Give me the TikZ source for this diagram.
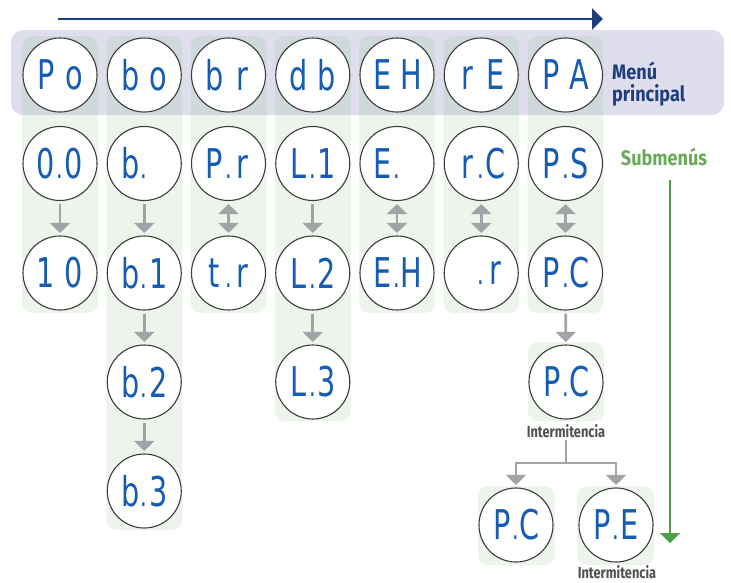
\documentclass[tikz,border=0pt]{standalone}
\usepackage{fontspec}
\setmainfont{Fira Sans}
\newfontfamily\segfont[FakeStretch=0.7]{DejaVu Sans}
\newfontfamily\condfont[FakeStretch=0.86]{Fira Sans}
\newfontfamily\intfont[FakeStretch=0.8]{Fira Sans}
\usetikzlibrary{arrows.meta}
\definecolor{bandc}{RGB}{222,222,237}
\definecolor{colbg}{RGB}{237,244,235}
\definecolor{colov}{RGB}{207,216,219}
\definecolor{segblue}{RGB}{22,92,178}
\definecolor{ring}{RGB}{60,60,60}
\definecolor{arrgrey}{RGB}{162,163,167}
\definecolor{navyc}{RGB}{31,62,126}
\definecolor{subgreen}{RGB}{104,170,88}
\definecolor{arrgreen}{RGB}{78,160,70}
\definecolor{labgrey}{RGB}{80,80,80}
\newcommand\disp[3]{\makebox[20pt][c]{#1}\makebox[8pt][c]{\fontsize{30}{30}\selectfont #2}\makebox[20pt][c]{#3}}
\newcommand\colpaths{%
  (22,36) rectangle (98,313)
  (106.25,36) rectangle (182.25,530)
  (190.5,36) rectangle (266.5,313)
  (274.75,36) rectangle (350.75,421)
  (359,36) rectangle (435,313)
  (443.25,36) rectangle (519.25,313)
  (527.5,36) rectangle (603.5,313)}
\tikzset{
  disc/.style={circle, draw=ring, line width=1.1pt, fill=white, minimum size=74pt,
    inner sep=0pt, text=segblue, font=\segfont\fontsize{41}{41}\selectfont},
  flow/.style={draw=arrgrey, line width=2.6pt, -{Triangle[width=20pt,length=10pt]},
    shorten <=3pt, shorten >=2.5pt},
  both/.style={draw=arrgrey, line width=2.6pt,
    {Triangle[width=20pt,length=10pt]}-{Triangle[width=20pt,length=10pt]},
    shorten <=3pt, shorten >=2.5pt},
  plainline/.style={draw=arrgrey, line width=2.6pt},
  intlab/.style={text=labgrey, inner sep=1pt, font=\intfont\bfseries\fontsize{16}{18}\selectfont},
  boldlab/.style={inner sep=0pt, font=\condfont\bfseries\fontsize{21}{22}\selectfont}
}
\begin{document}
\begin{tikzpicture}[x=1pt,y=-1pt]
\useasboundingbox (0,0) rectangle (731,582);
% main menu band
\fill[bandc, rounded corners=12pt] (11,30) rectangle (724,115);
% column backgrounds
\fill[colbg, rounded corners=10pt] \colpaths;
\fill[colbg, rounded corners=10pt] (528,342) rectangle (604,421);
\fill[colbg, rounded corners=10pt] (478,486) rectangle (555,565);
\fill[colbg, rounded corners=10pt] (577,486) rectangle (654,565);
\begin{scope}
  \clip[rounded corners=12pt] (11,30) rectangle (724,115);
  \fill[colov, rounded corners=10pt] \colpaths;
\end{scope}
% top arrow
\coordinate (ns) at (58,19);
\coordinate (ne) at (603,19);
\draw[navyc, line width=2.4pt, -{Triangle[width=21pt,length=11pt]}] (ns) -- (ne);
% row 1
\node[disc] (po) at (60,75) {\disp{P}{}{o}};
\node[disc] (bo) at (144.25,75) {\disp{b}{}{o}};
\node[disc] (br) at (228.5,75) {\disp{b}{}{r}};
\node[disc] (db) at (312.75,75) {\disp{d}{}{b}};
\node[disc] (eh) at (397,75) {\disp{E}{}{H}};
\node[disc] (re) at (481.25,75) {\disp{r}{}{E}};
\node[disc] (pa) at (565.5,75) {\disp{P}{}{A}};
% row 2
\node[disc] (a2) at (60,163.5) {\disp{0}{.}{0}};
\node[disc] (b2) at (144.25,163.5) {\disp{b}{.}{}};
\node[disc] (c2) at (228.5,163.5) {\disp{P}{.}{r}};
\node[disc] (d2) at (312.75,163.5) {\disp{L}{.}{1}};
\node[disc] (e2) at (397,163.5) {\disp{E}{.}{}};
\node[disc] (f2) at (481.25,163.5) {\disp{r}{.}{C}};
\node[disc] (g2) at (565.5,163.5) {\disp{P}{.}{S}};
% row 3
\node[disc] (a3) at (60,273) {\disp{1}{}{0}};
\node[disc] (b3) at (144.25,273) {\disp{b}{.}{1}};
\node[disc] (c3) at (228.5,273) {\disp{t}{.}{r}};
\node[disc] (d3) at (312.75,273) {\disp{L}{.}{2}};
\node[disc] (e3) at (397,273) {\disp{E}{.}{H}};
\node[disc] (f3) at (481.25,273) {\disp{}{.}{r}};
\node[disc] (g3) at (565.5,273) {\disp{P}{.}{C}};
% row 4 and 5
\node[disc] (b4) at (144.25,382) {\disp{b}{.}{2}};
\node[disc] (d4) at (312.75,382) {\disp{L}{.}{3}};
\node[disc] (g4) at (566,382) {\disp{P}{.}{C}};
\node[disc] (b5) at (144.25,491) {\disp{b}{.}{3}};
\node[disc] (pcl) at (516,525) {\disp{P}{.}{C}};
\node[disc] (pe) at (616,525) {\disp{P}{.}{E}};
% connectors
\draw[flow] (a2) -- (a3);
\draw[flow] (b2) -- (b3);
\draw[flow] (b3) -- (b4);
\draw[flow] (b4) -- (b5);
\draw[flow] (d2) -- (d3);
\draw[flow] (d3) -- (d4);
\draw[both] (c2) -- (c3);
\draw[both] (e2) -- (e3);
\draw[both] (f2) -- (f3);
\draw[both] (g2) -- (g3);
\draw[flow] (g3) -- (g4);
% blinking labels and branch
\node[intlab, anchor=base] (int1) at (566,437) {Intermitencia};
\node[intlab, inner sep=0pt, anchor=base] (int2) at (617,578.5) {Intermitencia};
\coordinate (j) at (566,463);
\draw[plainline, shorten <=2pt] (int1.south) -- (j);
\draw[flow, shorten <=0pt] (j) -| (pcl.north);
\draw[flow, shorten <=0pt] (j) -| (pe.north);
% side labels
\node[boldlab, text=navyc, align=left, anchor=west] (menu) at (612,84) {Menú\\principal};
\node[boldlab, text=subgreen] (sub) at (664,157) {Submenús};
\coordinate (gs) at (670,180);
\coordinate (ge) at (670,543);
\draw[arrgreen, line width=2.2pt, -{Triangle[width=20pt,length=10pt]}] (gs) -- (ge);
\end{tikzpicture}
\end{document}
